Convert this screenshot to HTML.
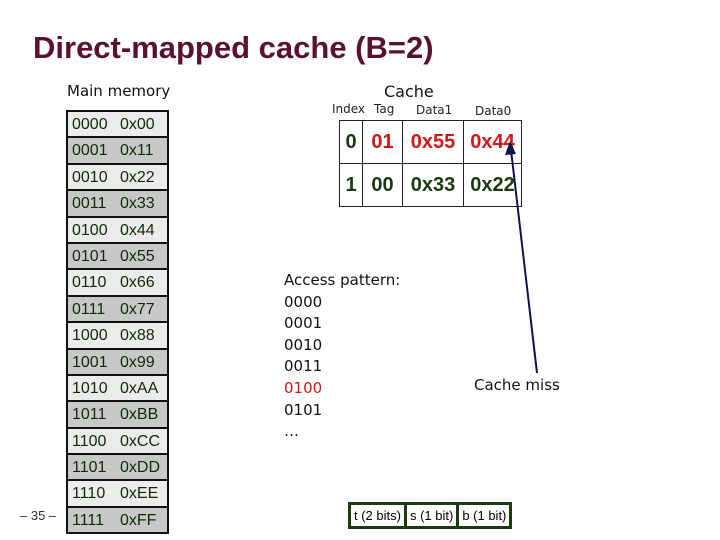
<!DOCTYPE html>
<html><head><style>
body{margin:0;width:720px;height:540px;background:#fff;position:relative;overflow:hidden;font-family:"Liberation Sans",sans-serif}
.a{position:absolute;white-space:nowrap}
.mem{position:absolute;left:66px;top:110px;width:99px;border:2px solid #111;border-bottom:none}
.mem div{height:24.4px;border-bottom:2px solid #111;font-size:16px;color:#102a08;line-height:25px;padding-left:4px}
.mem div:nth-child(odd){background:#ebebeb}
.mem div:nth-child(even){background:#c8c8c8}
.mem span{display:inline-block;width:48px}
table.c{position:absolute;left:339px;top:120px;border-collapse:collapse}
table.c td{border:1px solid #222;height:42px;font-size:20px;font-weight:bold;text-align:center;color:#1a3a10;padding:0}
.r{color:#d01818!important}
.sm{font-family:"DejaVu Sans",sans-serif;font-size:12px;color:#222}
.bits{position:absolute;left:348px;top:502px;border:3px solid #1a3a10;display:flex;background:#1a3a10;gap:3px}
.bits div{background:#fff;font-size:13px;padding:1px 3px;height:19px;line-height:19px}
</style></head><body>
<div class="a" style="left:33px;top:30px;font-size:31px;font-weight:bold;color:#5a1030">Direct-mapped cache (B=2)</div>
<div class="a" style="left:67px;top:82px;font-family:'DejaVu Sans',sans-serif;font-size:15px;color:#111">Main memory</div>
<div class="a" style="left:384px;top:82px;font-family:'DejaVu Sans',sans-serif;font-size:16px;color:#111">Cache</div>
<div class="a sm" style="left:332px;top:102px">Index</div>
<div class="a sm" style="left:374px;top:102px">Tag</div>
<div class="a sm" style="left:416px;top:103px">Data1</div>
<div class="a sm" style="left:475px;top:104px">Data0</div>
<div class="mem">
<div><span>0000</span>0x00</div><div><span>0001</span>0x11</div><div><span>0010</span>0x22</div><div><span>0011</span>0x33</div>
<div><span>0100</span>0x44</div><div><span>0101</span>0x55</div><div><span>0110</span>0x66</div><div><span>0111</span>0x77</div>
<div><span>1000</span>0x88</div><div><span>1001</span>0x99</div><div><span>1010</span>0xAA</div><div><span>1011</span>0xBB</div>
<div><span>1100</span>0xCC</div><div><span>1101</span>0xDD</div><div><span>1110</span>0xEE</div><div><span>1111</span>0xFF</div>
</div>
<table class="c">
<tr><td style="width:22px">0</td><td class="r" style="width:39px">01</td><td class="r" style="width:60px">0x55</td><td class="r" style="width:57px">0x44</td></tr>
<tr><td>1</td><td>00</td><td>0x33</td><td>0x22</td></tr>
</table>
<svg style="position:absolute;left:0;top:0" width="720" height="540">
<line x1="537" y1="373" x2="511" y2="150" stroke="#101050" stroke-width="2"/>
<polygon points="510,141 505,155 516,154" fill="#101050"/>
</svg>
<div class="a" style="left:284px;top:270px;font-family:'DejaVu Sans',sans-serif;font-size:15px;line-height:21.6px;color:#111">Access pattern:<br>0000<br>0001<br>0010<br>0011<br><span style="color:#d01818">0100</span><br>0101<br>…</div>
<div class="a" style="left:474px;top:376px;font-family:'DejaVu Sans',sans-serif;font-size:15px;color:#111">Cache miss</div>
<div class="a" style="left:20px;top:508px;font-size:13px;color:#333">– 35 –</div>
<div class="bits"><div>t (2 bits)</div><div>s (1 bit)</div><div>b (1 bit)</div></div>
</body></html>
